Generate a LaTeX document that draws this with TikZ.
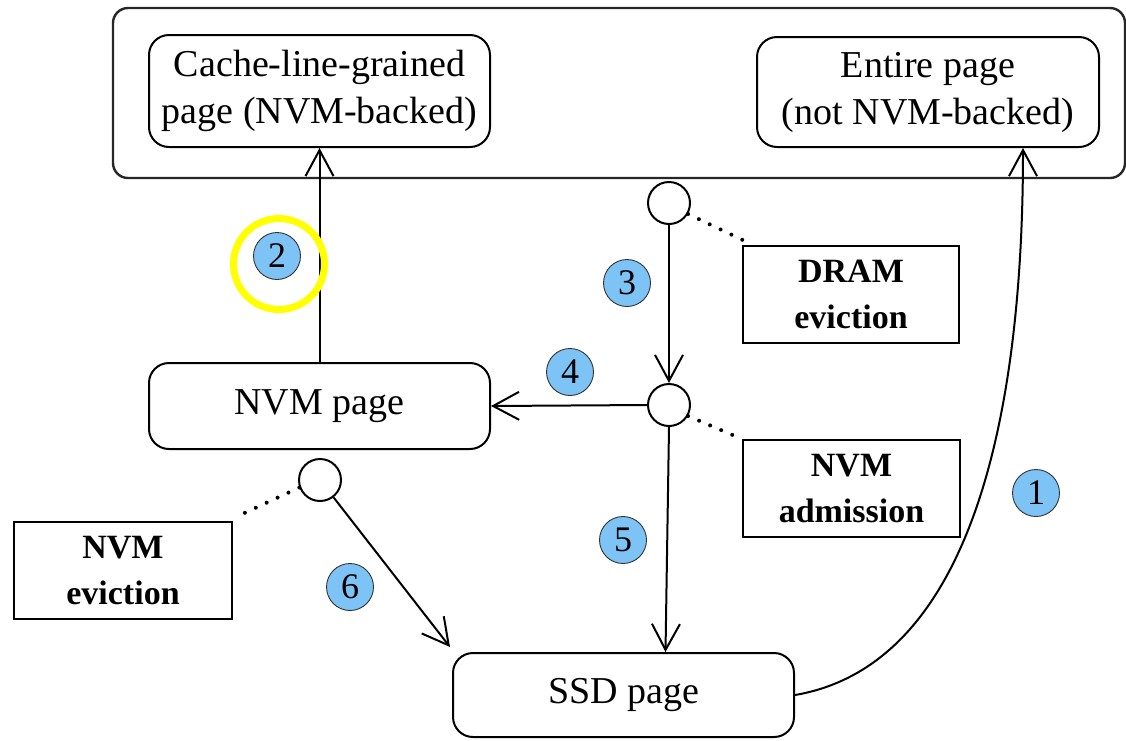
\documentclass[tikz,border=0pt]{standalone}
\usepackage{fontspec}
\setmainfont{Liberation Serif}
\usetikzlibrary{arrows.meta}
\definecolor{numblue}{RGB}{125,195,245}
\definecolor{hlyellow}{RGB}{255,255,0}
\begin{document}
\begin{tikzpicture}[x=1pt,y=-1pt,
  line width=2pt,
  txt/.style={font=\fontsize{38}{47}\selectfont, align=center},
  btxt/.style={font=\fontsize{34}{46}\selectfont\bfseries, align=center},
  rbox/.style={draw, rounded corners=20pt, inner sep=0pt, txt},
  sbox/.style={draw, inner sep=0pt, btxt},
  junc/.style={draw, circle, fill=white, minimum size=42pt, inner sep=0pt},
  num/.style={draw=black!80, line width=0.9pt, circle, fill=numblue, minimum size=47pt, inner sep=0pt, font=\fontsize{36}{40}\selectfont},
  arr/.style={-{Straight Barb[length=26pt,width=28pt,line width=2pt]}},
  dots/.style={line width=4pt, line cap=round, dash pattern=on 0pt off 12pt}
]
\useasboundingbox (0,0) rectangle (1126,740);

% outer container
\draw[rounded corners=15pt, line width=2.4pt, draw=black!85] (113,8) rectangle (1125,178);

% boxes
\node[rbox, minimum width=341pt, minimum height=112pt] (cache) at (319.5,91) {Cache-line-grained\\page (NVM-backed)};
\node[rbox, minimum width=342pt, minimum height=110pt] (entire) at (928,92) {Entire page\\(not NVM-backed)};
\node[rbox, minimum width=341pt, minimum height=86pt] (nvm) at (319.5,406) {NVM page};
\node[rbox, minimum width=341pt, minimum height=84pt] (ssd) at (623.5,695) {SSD page};

\node[sbox, minimum width=216pt, minimum height=97pt] (dram) at (851,294.5) {DRAM\\eviction};
\node[sbox, minimum width=217pt, minimum height=97pt] (adm) at (851.5,488.5) {NVM\\admission};
\node[sbox, minimum width=218pt, minimum height=97pt] (evb) at (123,570.5) {NVM\\eviction};

% junction circles
\node[junc] (c1) at (669,203) {};
\node[junc] (c2) at (669,405) {};
\node[junc] (c3) at (320,480) {};

% dotted links
\draw[dots] (c1.-30) -- ([xshift=7pt,yshift=2pt]dram.north west);
\draw[dots] (c2.-30) -- (adm.north west);
\draw[dots] (c3.200) -- ([shift={(5pt,5pt)}]evb.north east);

% arrows
\draw[arr] (nvm.north) -- (cache.south);
\draw[arr] (c1.south) -- (c2.north);
\draw[arr] (c2.west) -- (nvm.east);
\draw[arr] (c2.south) -- ([xshift=42pt]ssd.north);
\draw[arr] (c3.-52) -- ([shift={(-2pt,5pt)}]ssd.north west);
\coordinate (e1) at ([xshift=95pt]entire.south);
\draw[arr] (ssd.east) .. controls (970,665) and (1023,420) .. (e1);

% number labels
\node[num] (n1) at (1036,493) {1};
\node[num] (n2) at (277,256) {2};
\node[num] (n3) at (627,283) {3};
\node[num] (n4) at (570,372) {4};
\node[num] (n5) at (623,540) {5};
\node[num] (n6) at (350,587) {6};

% highlight
\node[draw=hlyellow, line width=7pt, circle, minimum size=91pt, inner sep=0pt] (hl) at (279,264) {};
\end{tikzpicture}
\end{document}
